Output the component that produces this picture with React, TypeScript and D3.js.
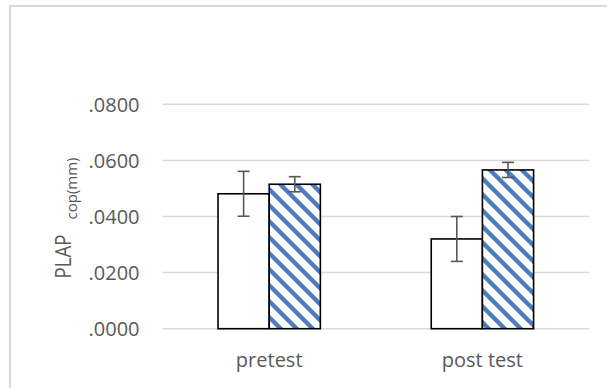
import React from "react";
import * as d3 from "d3";

const categories = ["pretest", "post test"];
const seriesNames = ["A", "B"];
const valuesA = [0.0481, 0.032];
const errorsA = [0.008, 0.008];
const valuesB = [0.0515, 0.0566];
const errorsB = [0.0027, 0.0027];
const tickValues = [0, 0.02, 0.04, 0.06, 0.08];

const W = 607;
const H = 388;
const FONT = "'Open Sans', sans-serif";
const TEXT = "#595959";

export default function App() {
  const plotLeft = 162.6;
  const plotRight = 589;
  const y = d3.scaleLinear().domain([0, 0.08]).range([328.7, 104.3]);
  const x0 = d3.scaleBand<string>().domain(categories).range([plotLeft, plotRight]).paddingInner(0.52).paddingOuter(0.26);
  const x1 = d3.scaleBand<string>().domain(seriesNames).range([0, x0.bandwidth()]).padding(0);
  const fmt = (v: number) => d3.format(".4f")(v).replace(/^0/, "");

  const series = [
    { name: "A", values: valuesA, errors: errorsA, fill: "#ffffff" },
    { name: "B", values: valuesB, errors: errorsB, fill: "url(#hatch)" },
  ];
  const yMid = (y(0) + y(0.08)) / 2;

  return (
    <svg width={W} height={H} style={{ position: "absolute", left: 0, top: 0, background: "#fff" }}>
      <defs>
        <pattern id="hatch" patternUnits="userSpaceOnUse" width={16} height={16}>
          <rect width={16} height={16} fill="#ffffff" />
          <path d="M-4,-4 L20,20 M-4,12 L4,20 M12,-4 L20,4" stroke="#4a7cc2" strokeWidth={4.4} />
        </pattern>
      </defs>
      <rect x={10} y={6} width={700} height={500} fill="#fff" stroke="#d9d9d9" strokeWidth={2} />
      {tickValues.map((t) => (
        <g key={t}>
          <line x1={plotLeft} x2={plotRight} y1={y(t)} y2={y(t)} stroke="#d9d9d9" strokeWidth={1.5} />
          <text x={139.5} y={y(t)} dy="0.36em" textAnchor="end" fontFamily={FONT} fontSize={20} fill={TEXT}>
            {fmt(t)}
          </text>
        </g>
      ))}
      {categories.map((c, i) => (
        <g key={c}>
          {series.map((s) => {
            const bx = (x0(c) as number) + (x1(s.name) as number);
            const bw = x1.bandwidth();
            const v = s.values[i];
            const e = s.errors[i];
            const cx = bx + bw / 2;
            return (
              <g key={s.name}>
                <rect x={bx} y={y(v)} width={bw} height={y(0) - y(v)} fill={s.fill} stroke="#000" strokeWidth={1.6} />
                <line x1={cx} x2={cx} y1={y(v + e)} y2={y(v - e)} stroke="#595959" strokeWidth={1.6} />
                <line x1={cx - 6} x2={cx + 6} y1={y(v + e)} y2={y(v + e)} stroke="#595959" strokeWidth={1.6} />
                <line x1={cx - 6} x2={cx + 6} y1={y(v - e)} y2={y(v - e)} stroke="#595959" strokeWidth={1.6} />
              </g>
            );
          })}
          <text x={(x0(c) as number) + x0.bandwidth() / 2} y={366.5} textAnchor="middle" fontFamily={FONT} fontSize={20} fill={TEXT}>
            {c}
          </text>
        </g>
      ))}
      <g transform={`translate(70.5,${yMid}) rotate(-90)`}>
        <text x={-62} y={0} fontFamily={FONT} fill={TEXT} fontSize={22} textLength={44} lengthAdjust="spacingAndGlyphs">
          PLAP
        </text>
        <text x={-3} y={6.5} fontFamily={FONT} fill={TEXT} fontSize={15}>
          cop(mm)
        </text>
      </g>
    </svg>
  );
}
